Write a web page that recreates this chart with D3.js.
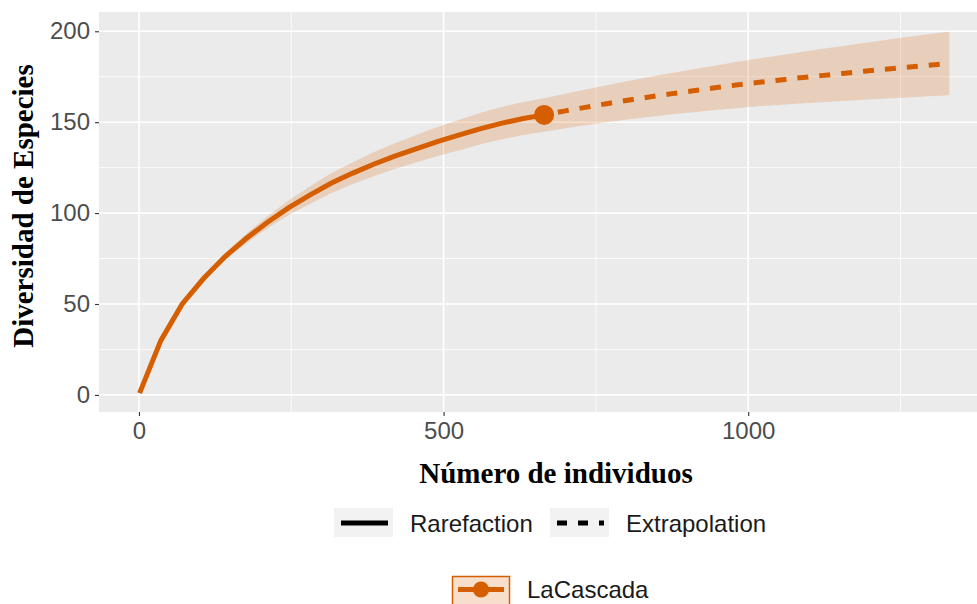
<!DOCTYPE html>
<html>
<head>
<meta charset="utf-8">
<script src="https://cdn.jsdelivr.net/npm/d3@7"></script>
<style>
  body { margin: 0; background: #fff; }
  svg { display: block; }
</style>
</head>
<body>
<svg id="chart" width="977" height="604"></svg>
<script>
// rarefaction part (sample size m, diversity, 95% limits)
const rareM  = [1, 36, 71, 106, 141, 176, 211, 246, 281, 316, 351, 386, 421, 456, 491, 526, 561, 596, 631, 665];
const rareS  = [1, 30, 50, 64, 76, 86, 95, 103, 110, 116.5, 122, 127, 131.5, 135.5, 139.5, 143, 146.5, 149.5, 152, 154];
const rareLo = [1, 29.5, 49, 62.5, 74, 83.3, 91.7, 99, 105.2, 111, 116, 120.4, 124.4, 127.9, 131.5, 134.6, 137.8, 140.6, 142.9, 144.8];
const rareHi = [1, 30.5, 51, 65.5, 78, 88.7, 98.3, 107, 114.8, 122, 128, 133.6, 138.6, 143.1, 147.5, 151.4, 155.2, 158.4, 161.1, 163.2];

// extrapolation part
const extM  = [665, 700, 735, 770, 805, 840, 875, 910, 945, 980, 1015, 1050, 1085, 1120, 1155, 1190, 1225, 1260, 1295, 1330];
const extS  = [154, 156.2, 158.3, 160.3, 162.2, 164, 165.7, 167.3, 168.9, 170.4, 171.8, 173.1, 174.4, 175.6, 176.8, 178, 179.1, 180.2, 181.3, 182.3];
const extLo = [144.8, 146.7, 148.5, 150.1, 151.6, 153, 154.3, 155.5, 156.7, 157.7, 158.7, 159.5, 160.3, 161, 161.7, 162.4, 163, 163.6, 164.2, 164.8];
const extHi = [163.2, 165.7, 168.1, 170.5, 172.8, 175, 177.1, 179.1, 181.1, 183.1, 184.9, 186.7, 188.5, 190.2, 191.9, 193.6, 195.2, 196.8, 198.4, 199.8];

const refM = 665, refS = 154;

const xTicks = [0, 500, 1000];
const xMinor = [250, 750, 1250];
const yTicks = [0, 50, 100, 150, 200];
const yMinor = [25, 75, 125, 175];

const lineColor = "#D55E00";

const svg = d3.select("#chart");
const panel = {left: 99, top: 12, right: 1012, bottom: 412};

const xScale = d3.scaleLinear().domain([-65.6, 1433]).range([panel.left, panel.right]);
const yScale = d3.scaleLinear().domain([-9.4, 210.6]).range([panel.bottom, panel.top]);

svg.append("rect")
    .attr("x", panel.left).attr("y", panel.top)
    .attr("width", panel.right - panel.left).attr("height", panel.bottom - panel.top)
    .attr("fill", "#EBEBEB");

// grid
const grid = svg.append("g").attr("stroke", "#fff");
grid.selectAll(".ymin").data(yMinor).enter().append("line")
    .attr("x1", panel.left).attr("x2", panel.right)
    .attr("y1", d => yScale(d)).attr("y2", d => yScale(d))
    .attr("stroke-width", 0.8);
grid.selectAll(".xmin").data(xMinor).enter().append("line")
    .attr("y1", panel.top).attr("y2", panel.bottom)
    .attr("x1", d => xScale(d)).attr("x2", d => xScale(d))
    .attr("stroke-width", 0.8);
grid.selectAll(".ymaj").data(yTicks).enter().append("line")
    .attr("x1", panel.left).attr("x2", panel.right)
    .attr("y1", d => yScale(d)).attr("y2", d => yScale(d))
    .attr("stroke-width", 1.6);
grid.selectAll(".xmaj").data(xTicks).enter().append("line")
    .attr("y1", panel.top).attr("y2", panel.bottom)
    .attr("x1", d => xScale(d)).attr("x2", d => xScale(d))
    .attr("stroke-width", 1.6);

// axes (ggplot-like)
const xAxis = svg.append("g")
    .attr("transform", `translate(0,${panel.bottom})`)
    .call(d3.axisBottom(xScale).tickValues(xTicks).tickFormat(d3.format("d")).tickSize(4).tickPadding(6));
const yAxis = svg.append("g")
    .attr("transform", `translate(${panel.left},0)`)
    .call(d3.axisLeft(yScale).tickValues(yTicks).tickFormat(d3.format("d")).tickSize(4).tickPadding(5));
[xAxis, yAxis].forEach(a => {
    a.select(".domain").remove();
    a.selectAll("line").attr("stroke", "#333").attr("stroke-width", 1.1);
    a.selectAll("text")
        .attr("fill", "#4D4D4D")
        .style("font-family", "'Liberation Sans', Arial, sans-serif")
        .style("font-size", "24px");
});

// ribbon
const band = rareM.map((m, i) => ({m: m, lo: rareLo[i], hi: rareHi[i]}))
    .concat(extM.slice(1).map((m, i) => ({m: m, lo: extLo[i + 1], hi: extHi[i + 1]})));

svg.append("path")
    .datum(band)
    .attr("fill", lineColor)
    .attr("fill-opacity", 0.2)
    .attr("d", d3.area().x(d => xScale(d.m)).y0(d => yScale(d.lo)).y1(d => yScale(d.hi)));

const line = d3.line().x(d => xScale(d.m)).y(d => yScale(d.s));

svg.append("path")
    .datum(rareM.map((m, i) => ({m: m, s: rareS[i]})))
    .attr("fill", "none")
    .attr("stroke", lineColor)
    .attr("stroke-width", 5)
    .attr("d", line);

svg.append("path")
    .datum(extM.map((m, i) => ({m: m, s: extS[i]})))
    .attr("fill", "none")
    .attr("stroke", lineColor)
    .attr("stroke-width", 5)
    .attr("stroke-dasharray", "11,11")
    .attr("stroke-dashoffset", -14)
    .attr("d", line);

svg.append("circle")
    .attr("cx", xScale(refM)).attr("cy", yScale(refS))
    .attr("r", 10)
    .attr("fill", lineColor);

// titles
svg.append("text")
    .attr("x", 556).attr("y", 483)
    .attr("text-anchor", "middle")
    .style("font-family", "'Liberation Serif', 'Times New Roman', serif")
    .style("font-weight", "bold")
    .style("font-size", "29px")
    .text("Número de individuos");

svg.append("text")
    .attr("transform", "translate(33,206) rotate(-90)")
    .attr("text-anchor", "middle")
    .style("font-family", "'Liberation Serif', 'Times New Roman', serif")
    .style("font-weight", "bold")
    .style("font-size", "29px")
    .text("Diversidad de Especies");

// legend: method
const legendFont = "'Liberation Sans', Arial, sans-serif";
const methods = [
    {label: "Rarefaction", x: 334, dash: null},
    {label: "Extrapolation", x: 550, dash: "10,11"}
];
methods.forEach(m => {
    svg.append("rect").attr("x", m.x).attr("y", 508).attr("width", 59).attr("height", 29).attr("fill", "#F2F2F2");
    svg.append("line")
        .attr("x1", m.x + 7).attr("x2", m.x + 54)
        .attr("y1", 523).attr("y2", 523)
        .attr("stroke", "#000").attr("stroke-width", 5)
        .attr("stroke-dasharray", m.dash);
    svg.append("text")
        .attr("x", m.x + 76).attr("y", 531.5)
        .attr("fill", "#1A1A1A")
        .style("font-family", legendFont).style("font-size", "24px")
        .text(m.label);
});

// legend: site
svg.append("rect")
    .attr("x", 452.5).attr("y", 576.5).attr("width", 57).attr("height", 30)
    .attr("fill", lineColor).attr("fill-opacity", 0.2)
    .attr("stroke", lineColor).attr("stroke-width", 1.5);
svg.append("line")
    .attr("x1", 458).attr("x2", 504).attr("y1", 589.5).attr("y2", 589.5)
    .attr("stroke", lineColor).attr("stroke-width", 5);
svg.append("circle").attr("cx", 481).attr("cy", 589.5).attr("r", 8).attr("fill", lineColor);
svg.append("text")
    .attr("x", 527).attr("y", 598)
    .attr("fill", "#1A1A1A")
    .style("font-family", legendFont).style("font-size", "24px")
    .text("LaCascada");
</script>
</body>
</html>
